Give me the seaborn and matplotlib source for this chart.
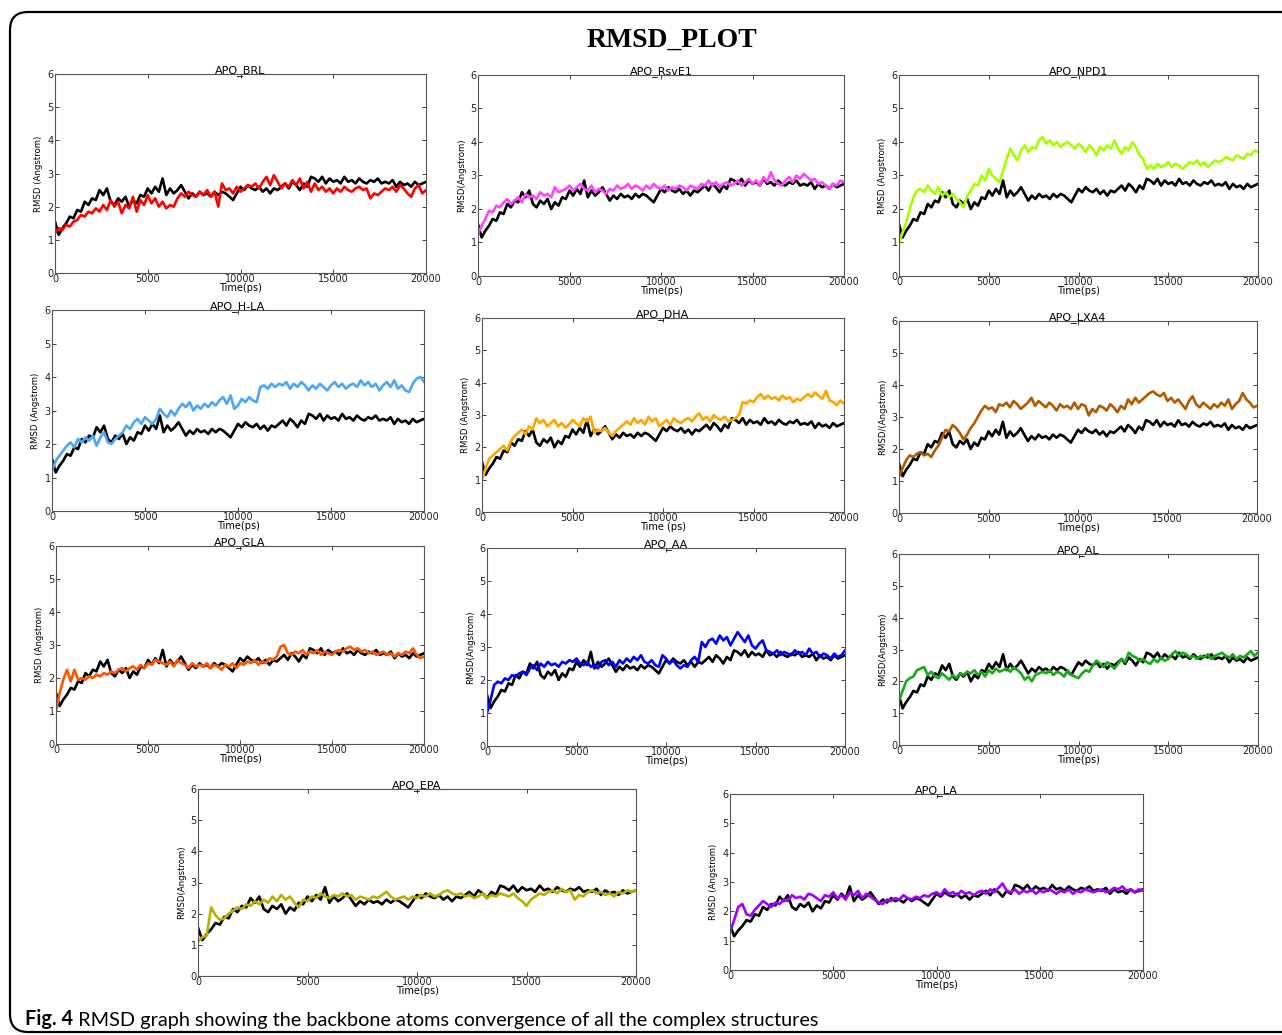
import numpy as np
import matplotlib
matplotlib.use("Agg")
import matplotlib.pyplot as plt
from matplotlib.patches import FancyBboxPatch
import seaborn as sns

# time axis of the trajectories (ps), sampled every 200 ps
time_ps = np.arange(0, 20001, 200)

# APO reference (black) - same trace drawn in every panel
apo = [1.55, 1.15, 1.35, 1.50, 1.70, 1.65, 1.90, 1.85, 2.15, 2.05,
       2.25, 2.20, 2.50, 2.35, 2.55, 2.15, 2.05, 2.25, 2.15, 2.30,
       2.00, 2.20, 2.10, 2.35, 2.30, 2.55, 2.40, 2.60, 2.45, 2.85,
       2.35, 2.55, 2.40, 2.50, 2.65, 2.45, 2.25, 2.40, 2.30, 2.45,
       2.35, 2.40, 2.30, 2.45, 2.35, 2.45, 2.40, 2.30, 2.20, 2.40,
       2.60, 2.50, 2.65, 2.55, 2.50, 2.60, 2.45, 2.55, 2.40, 2.55,
       2.50, 2.60, 2.70, 2.55, 2.75, 2.65, 2.50, 2.70, 2.60, 2.90,
       2.85, 2.75, 2.90, 2.70, 2.85, 2.75, 2.80, 2.70, 2.90, 2.75,
       2.80, 2.70, 2.85, 2.75, 2.70, 2.80, 2.75, 2.85, 2.70, 2.75,
       2.70, 2.80, 2.60, 2.75, 2.65, 2.70, 2.60, 2.75, 2.65, 2.70,
       2.75]

brl = [1.20, 1.35, 1.30, 1.45, 1.40, 1.55, 1.60, 1.75, 1.70, 1.85,
       1.80, 1.95, 1.85, 2.05, 1.90, 2.20, 2.00, 2.15, 1.80, 2.05,
       1.95, 2.30, 1.85, 2.20, 2.05, 2.35, 2.10, 2.25, 2.00, 2.15,
       1.95, 2.05, 2.00, 2.25, 2.40, 2.30, 2.45, 2.35, 2.30, 2.45,
       2.35, 2.50, 2.30, 2.45, 2.00, 2.70, 2.50, 2.55, 2.40, 2.60,
       2.45, 2.55, 2.65, 2.60, 2.70, 2.55, 2.75, 2.90, 2.65, 2.95,
       2.75, 2.55, 2.70, 2.60, 2.80, 2.65, 2.85, 2.55, 2.75, 2.45,
       2.70, 2.50, 2.60, 2.45, 2.55, 2.40, 2.55, 2.45, 2.60, 2.50,
       2.45, 2.55, 2.60, 2.50, 2.55, 2.25, 2.40, 2.35, 2.45, 2.55,
       2.50, 2.60, 2.45, 2.65, 2.55, 2.40, 2.30, 2.55, 2.65, 2.40,
       2.50]

rsve1 = [1.25, 1.50, 1.70, 1.95, 1.90, 2.10, 2.05, 2.20, 2.30, 2.15,
         2.25, 2.35, 2.20, 2.45, 2.35, 2.40, 2.30, 2.50, 2.40, 2.45,
         2.35, 2.65, 2.50, 2.55, 2.60, 2.70, 2.55, 2.65, 2.75, 2.60,
         2.55, 2.70, 2.50, 2.60, 2.55, 2.45, 2.60, 2.55, 2.70, 2.60,
         2.65, 2.75, 2.60, 2.70, 2.65, 2.55, 2.70, 2.60, 2.75, 2.65,
         2.60, 2.70, 2.55, 2.65, 2.60, 2.70, 2.65, 2.55, 2.70, 2.65,
         2.60, 2.75, 2.70, 2.85, 2.70, 2.80, 2.65, 2.75, 2.80, 2.70,
         2.75, 2.85, 2.70, 2.80, 2.90, 2.75, 2.85, 2.70, 2.95, 2.80,
         3.10, 2.85, 2.75, 2.70, 2.85, 2.95, 2.80, 3.00, 2.90, 3.05,
         2.95, 2.85, 2.90, 2.75, 2.80, 2.70, 2.60, 2.75, 2.70, 2.85,
         2.80]

npd1 = [1.00, 1.30, 1.60, 2.00, 2.35, 2.55, 2.60, 2.50, 2.70, 2.55,
        2.45, 2.65, 2.40, 2.50, 2.35, 2.45, 2.30, 2.20, 2.05, 2.40,
        2.55, 2.75, 2.70, 3.00, 2.85, 3.20, 3.00, 2.90, 2.80, 3.15,
        3.50, 3.80, 3.60, 3.45, 3.75, 3.90, 3.70, 3.85, 3.80, 4.05,
        4.15, 3.95, 4.05, 3.90, 4.00, 3.85, 3.95, 4.00, 3.90, 3.80,
        3.95, 3.85, 3.70, 3.90, 3.80, 3.60, 3.85, 3.75, 3.90, 3.80,
        4.05, 3.80, 3.65, 3.85, 3.75, 4.00, 3.85, 3.60, 3.50, 3.20,
        3.30, 3.20, 3.35, 3.25, 3.30, 3.40, 3.25, 3.35, 3.30, 3.20,
        3.30, 3.40, 3.35, 3.45, 3.30, 3.40, 3.25, 3.35, 3.45, 3.40,
        3.45, 3.55, 3.50, 3.45, 3.60, 3.55, 3.50, 3.65, 3.60, 3.75,
        3.70]

hla = [1.20, 1.50, 1.65, 1.80, 1.95, 2.05, 1.90, 2.15, 2.05, 2.20,
       2.10, 2.25, 1.95, 2.20, 2.35, 2.05, 2.00, 2.15, 2.25, 2.35,
       2.55, 2.45, 2.65, 2.75, 2.60, 2.80, 2.70, 2.60, 2.75, 3.05,
       2.90, 2.80, 3.00, 2.85, 3.05, 3.20, 3.10, 3.25, 3.00, 3.15,
       3.05, 3.20, 3.10, 3.25, 3.15, 3.30, 3.40, 3.20, 3.45, 3.05,
       3.15, 3.35, 3.25, 3.40, 3.30, 3.25, 3.70, 3.75, 3.65, 3.80,
       3.70, 3.80, 3.75, 3.85, 3.65, 3.80, 3.70, 3.85, 3.75, 3.60,
       3.75, 3.65, 3.80, 3.70, 3.60, 3.75, 3.85, 3.70, 3.80, 3.65,
       3.75, 3.80, 3.70, 3.90, 3.75, 3.85, 3.70, 3.80, 3.60, 3.75,
       3.85, 3.70, 3.90, 3.65, 3.75, 3.60, 3.55, 3.80, 3.95, 4.00,
       3.85]

dha = [1.00, 1.35, 1.65, 1.75, 1.85, 1.95, 2.05, 1.90, 2.20, 2.35,
       2.45, 2.55, 2.40, 2.65, 2.55, 2.90, 2.75, 2.85, 2.65, 2.75,
       2.85, 2.65, 2.75, 2.60, 2.70, 2.85, 2.75, 2.65, 2.90, 2.80,
       2.95, 2.45, 2.55, 2.50, 2.60, 2.45, 2.35, 2.50, 2.60, 2.70,
       2.80, 2.70, 2.90, 2.75, 2.85, 2.70, 2.95, 2.80, 2.90, 2.65,
       2.75, 2.85, 2.70, 2.90, 2.80, 2.75, 2.85, 2.90, 2.80, 2.95,
       3.05, 2.85, 2.95, 2.80, 3.00, 2.90, 2.85, 2.95, 2.80, 2.85,
       2.90, 3.00, 3.40, 3.35, 3.45, 3.40, 3.55, 3.65, 3.50, 3.60,
       3.50, 3.55, 3.45, 3.60, 3.50, 3.55, 3.40, 3.50, 3.45, 3.55,
       3.65, 3.55, 3.70, 3.60, 3.50, 3.75, 3.45, 3.40, 3.30, 3.45,
       3.35]

lxa4 = [1.15, 1.40, 1.65, 1.80, 1.75, 1.85, 1.90, 1.80, 1.85, 1.75,
        1.95, 2.10, 2.35, 2.60, 2.55, 2.75, 2.65, 2.50, 2.30, 2.45,
        2.65, 2.80, 3.00, 3.20, 3.35, 3.25, 3.30, 3.15, 3.40, 3.35,
        3.45, 3.30, 3.50, 3.40, 3.25, 3.35, 3.45, 3.60, 3.35, 3.50,
        3.40, 3.30, 3.45, 3.35, 3.20, 3.40, 3.30, 3.35, 3.25, 3.45,
        3.25, 3.40, 3.35, 3.05, 3.25, 3.15, 3.35, 3.30, 3.20, 3.40,
        3.30, 3.15, 3.35, 3.25, 3.55, 3.40, 3.60, 3.45, 3.55, 3.65,
        3.75, 3.80, 3.70, 3.65, 3.75, 3.50, 3.60, 3.45, 3.55, 3.40,
        3.25, 3.50, 3.65, 3.40, 3.30, 3.45, 3.35, 3.25, 3.40, 3.30,
        3.45, 3.35, 3.55, 3.25, 3.40, 3.50, 3.75, 3.55, 3.45, 3.30,
        3.35]

gla = [1.00, 1.55, 1.95, 2.25, 1.90, 2.25, 1.95, 2.00, 1.95, 2.05,
       2.00, 2.10, 2.05, 2.15, 2.10, 2.20, 2.15, 2.25, 2.30, 2.20,
       2.30, 2.35, 2.25, 2.40, 2.30, 2.45, 2.40, 2.55, 2.50, 2.45,
       2.40, 2.50, 2.35, 2.55, 2.45, 2.40, 2.30, 2.45, 2.35, 2.40,
       2.35, 2.45, 2.30, 2.40, 2.35, 2.25, 2.40, 2.35, 2.45, 2.30,
       2.45, 2.40, 2.50, 2.45, 2.55, 2.40, 2.50, 2.45, 2.60, 2.55,
       2.65, 2.95, 3.00, 2.75, 2.70, 2.80, 2.75, 2.85, 2.70, 2.80,
       2.75, 2.85, 2.70, 2.80, 2.75, 2.70, 2.80, 2.85, 2.80, 2.90,
       2.95, 2.85, 2.90, 2.80, 2.85, 2.75, 2.80, 2.70, 2.75, 2.80,
       2.70, 2.75, 2.65, 2.75, 2.70, 2.80, 2.75, 2.90, 2.70, 2.60,
       2.65]

aa = [1.00, 1.40, 1.85, 1.95, 1.90, 2.05, 2.00, 2.15, 2.10, 2.20,
      2.25, 2.15, 2.35, 2.45, 2.30, 2.50, 2.40, 2.55, 2.45, 2.50,
      2.40, 2.55, 2.50, 2.60, 2.55, 2.65, 2.50, 2.45, 2.55, 2.40,
      2.45, 2.35, 2.55, 2.60, 2.45, 2.55, 2.40, 2.60, 2.50, 2.65,
      2.55, 2.70, 2.60, 2.75, 2.55, 2.50, 2.60, 2.45, 2.40, 2.75,
      2.65, 2.50, 2.60, 2.45, 2.35, 2.45, 2.40, 2.60, 2.70, 2.55,
      3.15, 3.00, 3.20, 3.25, 3.10, 3.35, 3.20, 3.30, 3.05, 3.25,
      3.45, 3.30, 3.15, 3.35, 3.05, 2.95, 3.10, 3.20, 2.90, 2.85,
      2.80, 2.90, 2.75, 2.85, 2.80, 2.75, 2.90, 2.80, 2.85, 2.75,
      2.95, 2.80, 2.85, 2.70, 2.80, 2.75, 2.65, 2.80, 2.70, 2.75,
      2.90]

al = [1.40, 1.70, 2.00, 2.10, 2.15, 2.35, 2.40, 2.45, 2.20, 2.30,
      2.15, 2.10, 2.25, 2.15, 2.05, 2.20, 2.10, 2.25, 2.20, 2.30,
      2.25, 2.35, 2.20, 2.30, 2.15, 2.35, 2.25, 2.40, 2.30, 2.35,
      2.40, 2.30, 2.45, 2.35, 2.25, 2.05, 2.15, 2.00, 2.20, 2.25,
      2.30, 2.25, 2.35, 2.20, 2.30, 2.25, 2.15, 2.35, 2.20, 2.15,
      2.10, 2.25, 2.35, 2.30, 2.50, 2.65, 2.55, 2.45, 2.60, 2.50,
      2.40, 2.55, 2.70, 2.60, 2.90, 2.80, 2.75, 2.65, 2.70, 2.60,
      2.55, 2.70, 2.60, 2.75, 2.65, 2.70, 2.85, 2.95, 2.80, 2.90,
      2.85, 2.75, 2.80, 2.70, 2.80, 2.75, 2.85, 2.70, 2.80, 2.85,
      2.90, 2.80, 2.75, 2.85, 2.70, 2.80, 2.75, 2.85, 2.95, 2.80,
      2.90]

epa = [1.10, 1.25, 1.30, 2.20, 1.95, 1.80, 1.85, 2.00, 2.10, 2.20,
       2.15, 2.30, 2.25, 2.40, 2.30, 2.45, 2.35, 2.55, 2.40, 2.60,
       2.45, 2.55, 2.35, 2.20, 2.45, 2.40, 2.55, 2.50, 2.65, 2.55,
       2.50, 2.60, 2.55, 2.65, 2.55, 2.60, 2.45, 2.55, 2.50, 2.45,
       2.55, 2.50, 2.60, 2.70, 2.55, 2.45, 2.50, 2.55, 2.45, 2.55,
       2.50, 2.60, 2.55, 2.65, 2.55, 2.60, 2.70, 2.75, 2.65, 2.60,
       2.65, 2.55, 2.60, 2.50, 2.55, 2.65, 2.50, 2.60, 2.55, 2.65,
       2.60, 2.55, 2.65, 2.50, 2.40, 2.25, 2.45, 2.55, 2.65, 2.60,
       2.70, 2.75, 2.65, 2.80, 2.70, 2.75, 2.45, 2.60, 2.55, 2.70,
       2.75, 2.65, 2.70, 2.60, 2.65, 2.55, 2.70, 2.65, 2.75, 2.70,
       2.75]

la = [1.30, 1.70, 2.15, 2.25, 1.90, 1.85, 2.05, 2.20, 2.35, 2.25,
      2.15, 2.30, 2.25, 2.40, 2.35, 2.55, 2.45, 2.50, 2.40, 2.60,
      2.55, 2.45, 2.35, 2.55, 2.50, 2.65, 2.45, 2.55, 2.40, 2.65,
      2.55, 2.70, 2.45, 2.60, 2.50, 2.40, 2.30, 2.25, 2.40, 2.35,
      2.45, 2.40, 2.55, 2.45, 2.40, 2.50, 2.45, 2.55, 2.50, 2.60,
      2.65, 2.55, 2.75, 2.60, 2.65, 2.55, 2.70, 2.60, 2.65, 2.55,
      2.65, 2.70, 2.60, 2.75, 2.65, 2.80, 2.95, 2.70, 2.65, 2.75,
      2.60, 2.70, 2.65, 2.75, 2.60, 2.70, 2.65, 2.75, 2.70, 2.60,
      2.70, 2.65, 2.75, 2.60, 2.70, 2.65, 2.75, 2.70, 2.65, 2.70,
      2.75, 2.65, 2.70, 2.80, 2.75, 2.85, 2.70, 2.75, 2.65, 2.75,
      2.70]

titles = ["APO_BRL", "APO_RsvE1", "APO_NPD1", "APO_H-LA", "APO_DHA", "APO_LXA4",
          "APO_GLA", "APO_AA", "APO_AL", "APO_EPA", "APO_LA"]
ligand_series = [brl, rsve1, npd1, hla, dha, lxa4, gla, aa, al, epa, la]
ylabels = ["RMSD (Angstrom)", "RMSD(Angstrom)", "RMSD (Angstrom)",
           "RMSD (Angstrom)", "RMSD (Angstrom)", "RMSD/(Angstrom)",
           "RMSD (Angstrom)", "RMSD(Angstrom)", "RMSD(Angstrom)",
           "RMSD(Angstrom)", "RMSD (Angstrom)"]
xlabels = ["Time(ps)"] * 4 + ["Time (ps)"] + ["Time(ps)"] * 6
x_ticks = [0, 5000, 10000, 15000, 20000]
y_ticks = [0, 1, 2, 3, 4, 5, 6]

colors = ["#ff0000", "#ff44ff", "#a6ff00", "#4da6f5", "#ffa500", "#b35a00",
          "#ff5500", "#0000ff", "#18a818", "#b8b000", "#a000ff"]

# axes boxes in pixels (left, top, right, bottom) of the 1282x1035 canvas
W, H = 1282, 1035
boxes = [(55, 74, 426, 273), (478, 75, 844, 276), (899, 75, 1258, 276),
         (52, 310, 424, 511), (482, 318, 844, 512), (899, 321, 1257, 513),
         (56, 546, 424, 744), (487, 548, 845, 746), (899, 554, 1258, 745),
         (198, 789, 636, 976), (730, 794, 1143, 970)]

sns.set_style("ticks")
plt.rcParams["font.family"] = ["DejaVu Sans"]
plt.rcParams["text.color"] = "black"
plt.rcParams["axes.labelcolor"] = "black"

fig = plt.figure(figsize=(W / 100, H / 100), dpi=100)

for i, (l, t, r, b) in enumerate(boxes):
    ax = fig.add_axes([l / W, 1 - b / H, (r - l) / W, (b - t) / H])
    sns.lineplot(x=time_ps, y=apo, ax=ax, color="black", linewidth=1.9)
    sns.lineplot(x=time_ps, y=ligand_series[i], ax=ax, color=colors[i], linewidth=1.9)
    ax.set_xlim(0, 20000)
    ax.set_ylim(0, 6)
    ax.set_xticks(x_ticks)
    ax.set_yticks(y_ticks)
    ax.tick_params(direction="in", top=True, right=True, length=3, width=0.6,
                   labelsize=7, pad=1, colors="#222222")
    for sp in ax.spines.values():
        sp.set_color("#555555")
        sp.set_linewidth(0.8)
    ax.set_title(titles[i], fontsize=8, pad=1)
    ax.set_xlabel(xlabels[i], fontsize=7, labelpad=-1)
    ax.set_ylabel(ylabels[i], fontsize=6.8, labelpad=3, fontstretch="condensed")

fig.text(672 / W, 1 - 40 / H, "RMSD_PLOT", ha="center", va="center",
         fontsize=20, fontweight="bold", family="Liberation Serif")

caption_head = fig.text(25 / W, 1 - 1019 / H, "Fig. 4", ha="left", va="center",
                        fontsize=14.3, fontweight="bold", family="Lato")
fig.axes[0].annotate(" RMSD graph showing the backbone atoms convergence of all the complex structures",
                     xy=(1, 0), xycoords=caption_head, va="bottom", ha="left",
                     fontsize=14.3, family="Lato", annotation_clip=False)

border = FancyBboxPatch((0.10, 0.03), 12.9, 10.20,
                        boxstyle="round,pad=0,rounding_size=0.18",
                        transform=fig.dpi_scale_trans, fill=False,
                        edgecolor="black", linewidth=1.6)
fig.patches.append(border)

fig.savefig("out.png", dpi=100)
